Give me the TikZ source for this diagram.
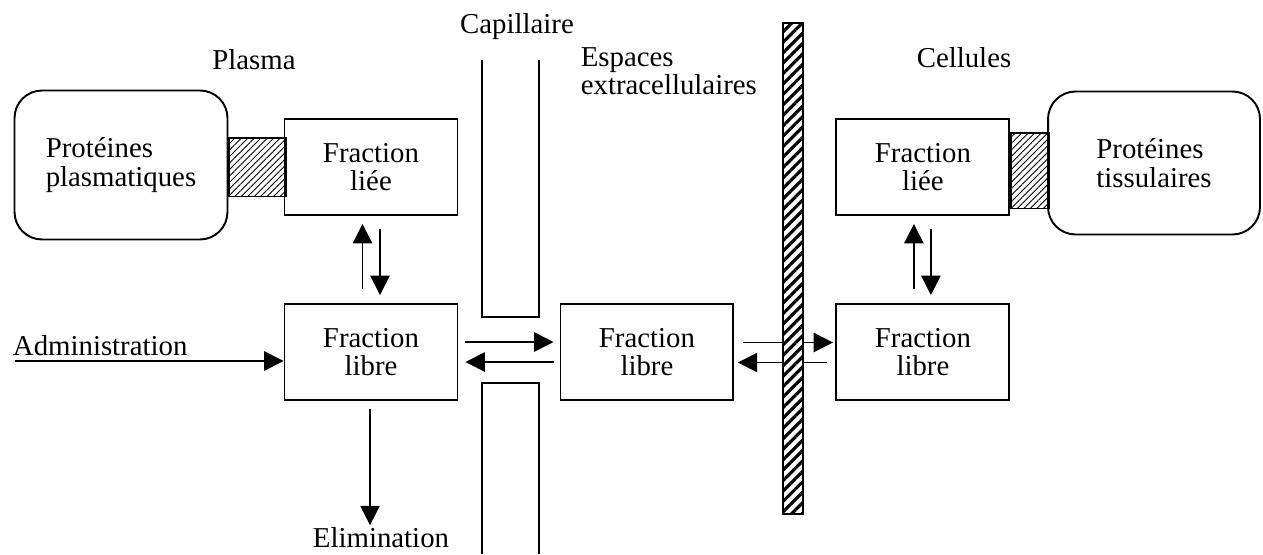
\documentclass[tikz,border=0pt]{standalone}
\usepackage{fontspec}
\setmainfont{Liberation Serif}
\usetikzlibrary{positioning,arrows.meta,patterns.meta}

\begin{document}
\begin{tikzpicture}[x=0.02cm, y=-0.02cm, font=\fontsize{16.4}{16.2}\selectfont, line width=1.1pt,
    frac block/.style={draw, rectangle, minimum width=3.46cm, minimum height=1.92cm, align=center},
    prot block/.style={draw, rectangle, rounded corners=0.55cm, align=left},
    link hatch/.style={draw, inner sep=0, anchor=west, pattern={Lines[angle=45,distance=2.6pt,line width=0.5pt]}},
    wall hatch/.style={draw, line width=0.8pt, inner sep=0, preaction={fill=white}, pattern={Lines[angle=45,distance=4.2pt,line width=1.8pt]}},
    flow/.style={->, line width=0.8pt},
    >={Triangle[length=11pt,width=11pt]}, node distance=5.52cm]
    \useasboundingbox (0,0) rectangle (1263,554);

    % compartments
    \node[frac block] (libreP) at (371,352) {Fraction\\libre};
    \node[frac block, right of=libreP] (libreE) {Fraction\\libre};
    \node[frac block, right of=libreE] (libreC) {Fraction\\libre};
    \node[frac block, above of=libreP, node distance=3.7cm] (lieeP) {Fraction\\liée};
    \node[frac block, above of=libreC, node distance=3.7cm] (lieeC) {Fraction\\liée};
    \node[prot block, minimum width=4.26cm, minimum height=2.98cm] (protP) at (121,165) {Protéines\\plasmatiques};
    \node[prot block, minimum width=4.24cm, minimum height=2.86cm] (protC) at (1154,163) {Protéines\\tissulaires};
    \node[link hatch, minimum width=1.14cm, minimum height=1.18cm] (linkP) at (protP.east |- lieeP.west) {};
    \node[link hatch, minimum width=0.76cm, minimum height=1.52cm] (linkC) at ([yshift=-0.07cm]lieeC.east) {};

    % labels
    \node (plasma) at (254,60) {Plasma};
    \node (capil) at (517,27) {Capillaire};
    \node[anchor=west, align=left] (espaces) at (574,71) {Espaces\\extracellulaires};
    \node (cellules) at (964,58) {Cellules};
    \node[anchor=base west, inner sep=0] (admin) at (12,355) {Administration};
    \node[inner sep=1pt] (elim) at (381,538) {Elimination};
    \coordinate (adm) at (15,361);

    % capillary wall
    \draw (482,60) |- (539,317) -- (539,60);
    \draw (482,554) |- (539,383) -- (539,554);

    % exchanges
    \draw[flow] (adm) -- (adm -| libreP.west);
    \draw[flow, shorten <=0.16cm] ([xshift=-0.02cm]libreP.south) -- ([xshift=-0.02cm]libreP.south |- elim.north);
    \draw[flow, shorten <=0.28cm, shorten >=0.16cm] ([xshift=-0.17cm]libreP.north) -- ([xshift=-0.17cm]lieeP.south);
    \draw[flow, shorten <=0.26cm, shorten >=0.16cm] ([xshift=0.18cm]lieeP.south) -- ([xshift=0.18cm]libreP.north);
    \draw[flow, shorten <=0.28cm, shorten >=0.16cm] ([xshift=-0.18cm]libreC.north) -- ([xshift=-0.18cm]lieeC.south);
    \draw[flow, shorten <=0.26cm, shorten >=0.16cm] ([xshift=0.16cm]lieeC.south) -- ([xshift=0.16cm]libreC.north);
    \draw[flow, shorten <=0.14cm, shorten >=0.12cm] ([yshift=0.2cm]libreP.east) -- ([yshift=0.2cm]libreE.west);
    \draw[flow, shorten <=0.12cm, shorten >=0.14cm] ([yshift=-0.2cm]libreE.west) -- ([yshift=-0.2cm]libreP.east);
    \draw[flow, shorten <=0.17cm, shorten >=0.05cm] ([yshift=0.19cm]libreE.east) -- ([yshift=0.19cm]libreC.west);
    \draw[flow, shorten <=0.17cm, shorten >=0.07cm] ([yshift=-0.21cm]libreC.west) -- ([yshift=-0.21cm]libreE.east);

    % cell membrane
    \node[wall hatch, minimum width=0.4cm, minimum height=9.82cm] (membrane) at (793,268.5) {};
\end{tikzpicture}
\end{document}
